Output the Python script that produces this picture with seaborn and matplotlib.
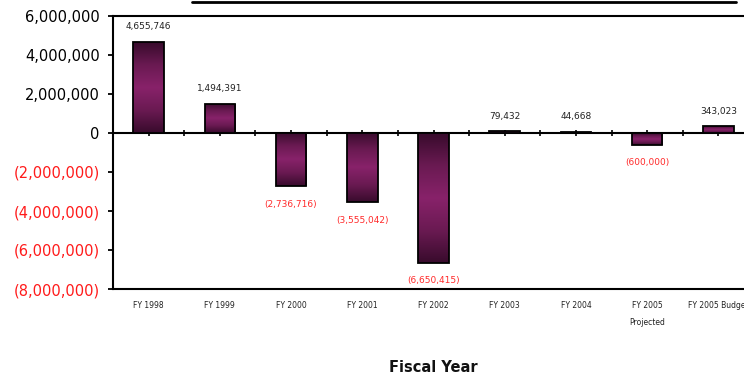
import numpy as np
import pandas as pd
import matplotlib
matplotlib.use("Agg")
import matplotlib.pyplot as plt
import seaborn as sns
from matplotlib.colors import LinearSegmentedColormap
from matplotlib.lines import Line2D

categories = ["FY 1998", "FY 1999", "FY 2000", "FY 2001", "FY 2002",
              "FY 2003", "FY 2004", "FY 2005\nProjected", "FY 2005 Budget"]
values = [4655746, 1494391, -2736716, -3555042, -6650415,
          79432, 44668, -600000, 343023]
y_ticks = [6000000, 4000000, 2000000, 0, -2000000, -4000000, -6000000, -8000000]
x_title = "Fiscal Year"

sns.set_theme(style="white")
plt.rcParams["font.family"] = ["DejaVu Sans"]

df = pd.DataFrame({"year": categories, "value": values})

fig = plt.figure(figsize=(7.44, 3.78), dpi=100)
ax = fig.add_axes([113 / 744, 89 / 378, 641 / 744, 273 / 378])

sns.barplot(data=df, x="year", y="value", color="#7a1e5c", width=0.43,
            edgecolor="black", linewidth=1.3, ax=ax, zorder=3)

ax.set_xlim(-0.5, 8.5)
ax.set_ylim(-8000000, 6000000)

# gradient fill on bars
cmap = LinearSegmentedColormap.from_list(
    "grad", ["#380b2c", "#6a1a52", "#88226a", "#6a1a52", "#380b2c"])
grad = np.linspace(0, 1, 256).reshape(-1, 1)
for p in ax.patches:
    x0, y0 = p.get_x(), p.get_y()
    w, h = p.get_width(), p.get_height()
    ybot, ytop = min(y0, y0 + h), max(y0, y0 + h)
    im = ax.imshow(grad, cmap=cmap, aspect="auto",
                   extent=[x0, x0 + w, ybot, ytop], origin="lower", zorder=3.5)
    im.set_clip_path(p)
    p.set_facecolor("none")
    p.set_zorder(4)
ax.set_xlim(-0.5, 8.5)
ax.set_ylim(-8000000, 6000000)
ax.set_aspect("auto")

# value labels
for i, v in enumerate(values):
    if v >= 0:
        txt = f"{v:,}"
        ax.annotate(txt, (i, v), xytext=(0, 11), textcoords="offset points",
                    ha="center", va="center", fontsize=6.5, color="#222222")
    else:
        txt = f"({-v:,})"
        ax.annotate(txt, (i, v), xytext=(0, -13), textcoords="offset points",
                    ha="center", va="center", fontsize=6.5, color="#ff2a2a")

# y axis
ax.set_yticks(y_ticks)
ax.set_yticklabels([f"{t:,}" if t >= 0 else f"({-t:,})" for t in y_ticks],
                   fontsize=10.5)
for lab, t in zip(ax.get_yticklabels(), y_ticks):
    lab.set_color("black" if t >= 0 else "#ff1a1a")
ax.tick_params(axis="y", direction="out", length=3.5, width=1.3,
               color="black", pad=6, left=True)

# x axis (labels at bottom)
ax.tick_params(axis="x", length=0, pad=9, labelsize=5.5, colors="#222222")
for lab in ax.get_xticklabels():
    lab.set_linespacing(2.1)
    lab.set_verticalalignment("top")
ax.set_xlabel(x_title, fontsize=10.5, fontweight="bold", color="#111111",
              va="center")
ax.xaxis.set_label_coords(0.5, -0.286)
ax.set_ylabel("")

for s in ["left", "bottom", "top", "right"]:
    ax.spines[s].set_visible(True)
    ax.spines[s].set_color("black")
    ax.spines[s].set_linewidth(1.5)

# zero line with ticks
sec = ax.secondary_xaxis(8 / 14)
sec.set_xticks(range(len(categories)))
sec.set_xticklabels([""] * len(categories))
sec.set_xticks(np.arange(-0.5, len(categories), 1), minor=True)
sec.tick_params(axis="x", which="both", direction="inout", length=5,
                width=1.2, color="black")
for s in sec.spines:
    sec.spines[s].set_linewidth(1.5)
    sec.spines[s].set_color("black")

# top decorative line
fig.add_artist(Line2D([192 / 744, 736 / 744], [1 - 1.5 / 378, 1 - 1.5 / 378],
                      transform=fig.transFigure, color="black", linewidth=2))

fig.savefig("out.png", dpi=100)
